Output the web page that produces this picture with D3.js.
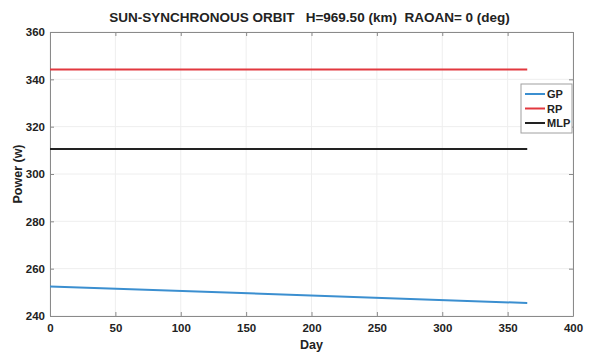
<!DOCTYPE html>
<html>
<head>
<meta charset="utf-8">
<script src="https://cdn.jsdelivr.net/npm/d3@7"></script>
<style>
  body { margin: 0; background: #fff; }
  text { font-family: "Liberation Sans", Arial, sans-serif; font-weight: bold; fill: #222; }
</style>
</head>
<body>
<svg id="chart" width="589" height="354"></svg>
<script>
const days = [0, 365]
const gp = [252.5, 245.5]
const rp = [344.2, 344.2]
const mlp = [310.6, 310.6]
const xTicks = [0, 50, 100, 150, 200, 250, 300, 350, 400]
const yTicks = [240, 260, 280, 300, 320, 340, 360]
const seriesNames = ['GP', 'RP', 'MLP']
const seriesColors = ['#3b8fd0', '#e2383f', '#222222']

const MARGIN = { top: 32, right: 16, bottom: 38, left: 50 }
const width = 589, height = 354
const boundedWidth = width - MARGIN.left - MARGIN.right
const boundedHeight = height - MARGIN.top - MARGIN.bottom

const $svg = d3.select('#chart')
const $g = $svg.append('g').attr('transform', `translate(${MARGIN.left}, ${MARGIN.top})`)

const xScale = d3.scaleLinear().domain([0, 400]).range([0, boundedWidth])
const yScale = d3.scaleLinear().domain([240, 360]).range([boundedHeight, 0])

// grid
$g.selectAll('.gx').data(xTicks).enter().append('line')
  .attr('x1', d => xScale(d)).attr('x2', d => xScale(d))
  .attr('y1', 0).attr('y2', boundedHeight)
  .attr('stroke', '#eeeeee').attr('stroke-width', 1)
$g.selectAll('.gy').data(yTicks).enter().append('line')
  .attr('y1', d => yScale(d)).attr('y2', d => yScale(d))
  .attr('x1', 0).attr('x2', boundedWidth)
  .attr('stroke', '#eeeeee').attr('stroke-width', 1)

// axes (ticks inward, matlab style)
const styleAxis = sel => {
  sel.select('.domain').attr('stroke', '#8a8a8a')
  sel.selectAll('.tick line').attr('stroke', '#8a8a8a')
  sel.selectAll('.tick text').attr('font-size', 11.5).attr('font-weight', 'bold')
    .attr('font-family', '"Liberation Sans", Arial, sans-serif').attr('fill', '#222')
}
$g.append('g').attr('transform', `translate(0, ${boundedHeight})`)
  .call(d3.axisBottom(xScale).tickValues(xTicks).tickSizeInner(-4).tickSizeOuter(0).tickPadding(8))
  .call(styleAxis)
$g.append('g')
  .call(d3.axisLeft(yScale).tickValues(yTicks).tickSizeInner(-4).tickSizeOuter(0).tickPadding(5))
  .call(styleAxis)
$g.append('g')
  .call(d3.axisTop(xScale).tickValues(xTicks).tickSizeInner(-4).tickSizeOuter(0).tickFormat(''))
  .call(styleAxis)
$g.append('g').attr('transform', `translate(${boundedWidth}, 0)`)
  .call(d3.axisRight(yScale).tickValues(yTicks).tickSizeInner(-4).tickSizeOuter(0).tickFormat(''))
  .call(styleAxis)

// lines
const lineGen = d3.line().x(d => xScale(d[0])).y(d => yScale(d[1]))
const series = [gp, rp, mlp]
series.forEach((vals, i) => {
  $g.append('path')
    .datum(days.map((d, j) => [d, vals[j]]))
    .attr('d', lineGen)
    .attr('fill', 'none')
    .attr('stroke', seriesColors[i])
    .attr('stroke-width', 2)
})

// legend
const $leg = $g.append('g').attr('transform', `translate(${boundedWidth - 52}, 52)`)
$leg.append('rect').attr('width', 51).attr('height', 49)
  .attr('fill', '#fff').attr('stroke', '#a0a0a0').attr('stroke-width', 1)
seriesNames.forEach((name, i) => {
  const y = 10 + i * 14.5
  $leg.append('line').attr('x1', 4).attr('x2', 24).attr('y1', y).attr('y2', y)
    .attr('stroke', seriesColors[i]).attr('stroke-width', 2)
  $leg.append('text').attr('x', 26).attr('y', y + 4).attr('font-size', 11).text(name)
})

// labels
$svg.append('text')
  .attr('x', MARGIN.left + boundedWidth / 2 - 2).attr('y', 22)
  .attr('text-anchor', 'middle').attr('font-size', 13.5)
  .attr('xml:space', 'preserve')
  .text('SUN-SYNCHRONOUS ORBIT   H=969.50 (km)  RAOAN= 0 (deg)')
$svg.append('text')
  .attr('x', MARGIN.left + boundedWidth / 2).attr('y', 349)
  .attr('text-anchor', 'middle').attr('font-size', 12.5)
  .text('Day')
$svg.append('text')
  .attr('transform', `rotate(-90)`)
  .attr('x', -(MARGIN.top + boundedHeight / 2)).attr('y', 22)
  .attr('text-anchor', 'middle').attr('font-size', 12.5)
  .text('Power (w)')
</script>
</body>
</html>
